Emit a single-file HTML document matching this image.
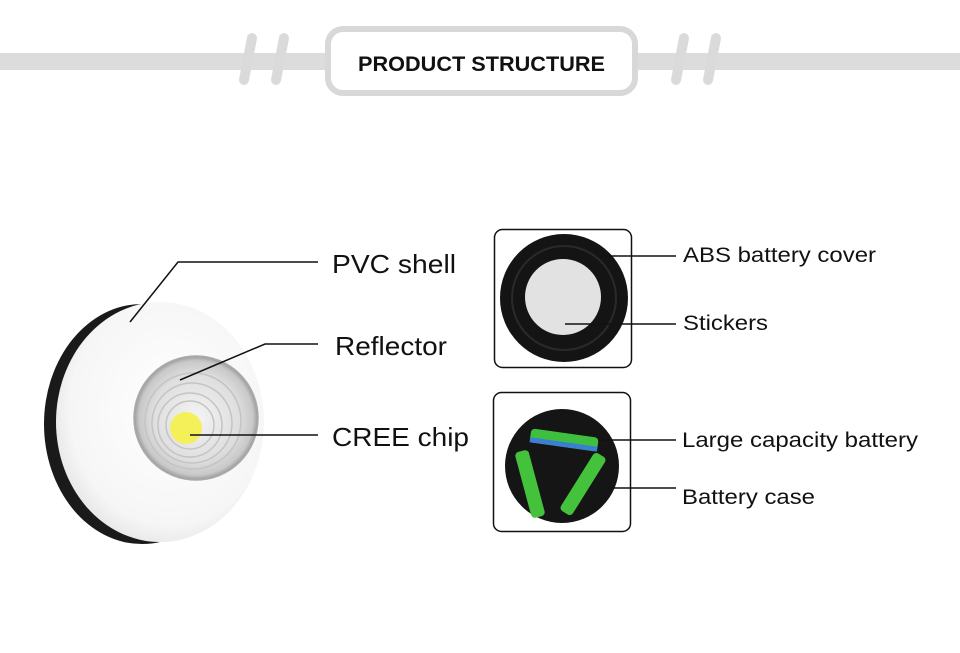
<!DOCTYPE html>
<html><head><meta charset="utf-8"><style>
html,body{margin:0;padding:0;background:#fff;width:960px;height:653px;overflow:hidden}
</style></head><body>
<svg width="960" height="653" viewBox="0 0 960 653" xmlns="http://www.w3.org/2000/svg" font-family="Liberation Sans, Arial, sans-serif">
<defs>
<radialGradient id="lens" cx="0.5" cy="0.5" r="0.5">
<stop offset="0" stop-color="#f4f4f4"/><stop offset="0.7" stop-color="#dedede"/><stop offset="0.92" stop-color="#c8c8c8"/><stop offset="1" stop-color="#9a9a9a"/>
</radialGradient>
<radialGradient id="shell" cx="0.55" cy="0.45" r="0.6">
<stop offset="0" stop-color="#ffffff"/><stop offset="0.8" stop-color="#f6f6f6"/><stop offset="1" stop-color="#e4e4e4"/>
</radialGradient>
</defs>
<rect x="0" y="53" width="960" height="17" fill="#dcdcdc"/>
<g stroke="#dadada" stroke-width="10" stroke-linecap="round">
<line x1="252" y1="38" x2="244" y2="80"/><line x1="284" y1="38" x2="276" y2="80"/>
<line x1="684" y1="38" x2="676" y2="80"/><line x1="716" y1="38" x2="708" y2="80"/>
</g>
<rect x="328" y="29" width="307" height="64" rx="15" fill="#fff" stroke="#d8d8d8" stroke-width="6"/>
<text x="358" y="71" font-size="21" font-weight="bold" fill="#111" textLength="247" lengthAdjust="spacingAndGlyphs">PRODUCT STRUCTURE</text>
<ellipse cx="142" cy="424" rx="98" ry="120" fill="#1a1a1a"/>
<ellipse cx="160" cy="422" rx="104" ry="120" fill="url(#shell)"/>
<circle cx="196" cy="418" r="62" fill="url(#lens)" stroke="#aaa" stroke-width="1.5"/>
<g fill="none" stroke="#c4c4c4" stroke-width="1.5">
<circle cx="190" cy="425" r="24"/><circle cx="190" cy="425" r="32"/><circle cx="192" cy="423" r="40"/><circle cx="193" cy="421" r="48"/>
</g>
<circle cx="186" cy="428" r="16" fill="#f3f05a"/>
<g stroke="#111" stroke-width="1.5" fill="none">
<polyline points="130,322 178,262 318,262"/>
<polyline points="180,380 265,344 318,344"/>
<polyline points="190,435 318,435"/>
</g>
<g font-size="26" fill="#111">
<text x="332" y="273" textLength="124" lengthAdjust="spacingAndGlyphs">PVC shell</text>
<text x="335" y="355" textLength="112" lengthAdjust="spacingAndGlyphs">Reflector</text>
<text x="332" y="446" textLength="137" lengthAdjust="spacingAndGlyphs">CREE chip</text>
</g>
<rect x="494.5" y="229.5" width="137" height="138" rx="8" fill="#fff" stroke="#111" stroke-width="1.5"/>
<circle cx="564" cy="298" r="64" fill="#141414"/>
<circle cx="564" cy="298" r="52" fill="none" stroke="#2a2a2a" stroke-width="2"/>
<circle cx="563" cy="297" r="38" fill="#e2e2e2"/>
<rect x="493.5" y="392.5" width="137" height="139" rx="8" fill="#fff" stroke="#111" stroke-width="1.5"/>
<circle cx="562" cy="466" r="57" fill="#151515"/>
<g transform="rotate(8 564 441)"><rect x="530" y="433" width="68" height="14" rx="4" fill="#3fbf3f"/><rect x="530" y="442" width="68" height="5" fill="#3a7fd0"/></g>
<g transform="rotate(75 530 484)"><rect x="496" y="477" width="68" height="14" rx="4" fill="#44c23c"/></g>
<g transform="rotate(-58 583 484)"><rect x="549" y="477" width="68" height="14" rx="4" fill="#44c23c"/></g>
<g stroke="#111" stroke-width="1.5">
<line x1="600" y1="256" x2="676" y2="256"/>
<line x1="565" y1="324" x2="676" y2="324"/>
<line x1="598" y1="440" x2="676" y2="440"/>
<line x1="607" y1="488" x2="676" y2="488"/>
</g>
<g font-size="21" fill="#111">
<text x="683" y="262" textLength="193" lengthAdjust="spacingAndGlyphs">ABS battery cover</text>
<text x="683" y="330" textLength="85" lengthAdjust="spacingAndGlyphs">Stickers</text>
<text x="682" y="447" textLength="236" lengthAdjust="spacingAndGlyphs">Large capacity battery</text>
<text x="682" y="504" textLength="133" lengthAdjust="spacingAndGlyphs">Battery case</text>
</g>
</svg>
</body></html>
